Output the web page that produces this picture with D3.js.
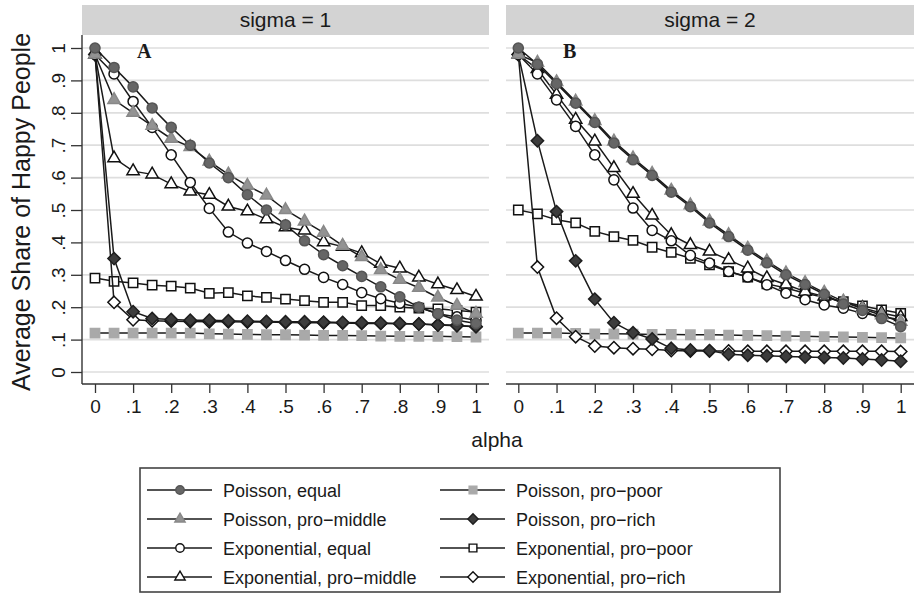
<!DOCTYPE html>
<html><head><meta charset="utf-8">
<script src="https://cdn.jsdelivr.net/npm/d3@7"></script>
<style>
body{margin:0;background:#fff}
text{font-family:"Liberation Sans",Arial,sans-serif;fill:#1a1a1a}
</style>
</head><body>
<svg id="chart" width="914" height="601"></svg>
<script>
// ---------------- data ----------------
const alpha = [0, 0.05, 0.1, 0.15, 0.2, 0.25, 0.3, 0.35, 0.4, 0.45, 0.5, 0.55, 0.6, 0.65, 0.7, 0.75, 0.8, 0.85, 0.9, 0.95, 1];
const yTickValues = [0, 0.1, 0.2, 0.3, 0.4, 0.5, 0.6, 0.7, 0.8, 0.9, 1];
const yTickLabels = ["0", ".1", ".2", ".3", ".4", ".5", ".6", ".7", ".8", ".9", "1"];
const xTickValues = [0, 0.1, 0.2, 0.3, 0.4, 0.5, 0.6, 0.7, 0.8, 0.9, 1];
const xTickLabels = ["0", ".1", ".2", ".3", ".4", ".5", ".6", ".7", ".8", ".9", "1"];
const panels = ["sigma = 1", "sigma = 2"];
const panelLetters = ["A", "B"];
const seriesNames = ["Poisson, equal", "Poisson, pro\u2212middle", "Exponential, equal", "Exponential, pro\u2212middle",
                     "Poisson, pro\u2212poor", "Poisson, pro\u2212rich", "Exponential, pro\u2212poor", "Exponential, pro\u2212rich"];

// sigma = 1 (panel A)
const poisEqA   = [1.00,0.94,0.88,0.815,0.755,0.70,0.645,0.60,0.547,0.50,0.454,0.405,0.362,0.328,0.295,0.263,0.232,0.20,0.18,0.16,0.15];
const poisMidA  = [0.98,0.84,0.80,0.76,0.72,0.695,0.65,0.61,0.575,0.545,0.50,0.465,0.43,0.39,0.355,0.315,0.285,0.26,0.23,0.205,0.18];
const expEqA    = [0.98,0.92,0.835,0.755,0.67,0.585,0.505,0.432,0.398,0.372,0.344,0.317,0.292,0.27,0.245,0.226,0.212,0.20,0.18,0.17,0.16];
const expMidA   = [0.98,0.66,0.62,0.61,0.58,0.557,0.547,0.511,0.496,0.472,0.447,0.437,0.401,0.387,0.367,0.334,0.32,0.292,0.271,0.253,0.233];
const poisPoorA = [0.12,0.12,0.12,0.12,0.12,0.12,0.118,0.117,0.116,0.115,0.115,0.114,0.113,0.113,0.112,0.111,0.11,0.11,0.11,0.109,0.108];
const poisRichA = [0.98,0.35,0.186,0.165,0.162,0.16,0.16,0.158,0.157,0.156,0.155,0.155,0.154,0.153,0.152,0.151,0.15,0.148,0.145,0.143,0.14];
const expPoorA  = [0.29,0.28,0.275,0.268,0.265,0.259,0.243,0.245,0.235,0.23,0.225,0.22,0.215,0.215,0.205,0.205,0.20,0.197,0.195,0.19,0.185];
const expRichA  = [0.98,0.215,0.161,0.158,0.157,0.156,0.155,0.155,0.154,0.154,0.153,0.152,0.152,0.151,0.15,0.15,0.149,0.148,0.146,0.144,0.14];

// sigma = 2 (panel B)
const poisEqB   = [1.00,0.95,0.89,0.83,0.77,0.707,0.655,0.607,0.555,0.51,0.46,0.418,0.376,0.337,0.30,0.27,0.24,0.21,0.19,0.165,0.14];
const poisMidB  = [0.98,0.955,0.895,0.835,0.775,0.712,0.66,0.612,0.56,0.515,0.465,0.423,0.381,0.342,0.305,0.275,0.245,0.218,0.195,0.175,0.155];
const expEqB    = [0.98,0.92,0.84,0.758,0.67,0.593,0.506,0.437,0.405,0.36,0.336,0.31,0.293,0.269,0.243,0.223,0.207,0.197,0.181,0.171,0.161];
const expMidB   = [0.98,0.935,0.856,0.779,0.712,0.63,0.55,0.483,0.423,0.392,0.372,0.346,0.32,0.29,0.27,0.248,0.233,0.215,0.198,0.182,0.17];
const poisPoorB = [0.12,0.12,0.12,0.119,0.118,0.118,0.117,0.116,0.116,0.115,0.115,0.114,0.113,0.112,0.111,0.11,0.109,0.108,0.107,0.106,0.105];
const poisRichB = [0.98,0.714,0.495,0.343,0.225,0.152,0.121,0.102,0.073,0.068,0.066,0.055,0.052,0.05,0.048,0.046,0.045,0.043,0.04,0.037,0.033];
const expPoorB  = [0.50,0.488,0.47,0.46,0.434,0.418,0.406,0.385,0.369,0.351,0.331,0.31,0.293,0.272,0.259,0.243,0.231,0.217,0.204,0.192,0.181];
const expRichB  = [0.98,0.324,0.166,0.109,0.08,0.075,0.072,0.07,0.066,0.065,0.065,0.065,0.064,0.064,0.064,0.064,0.064,0.064,0.064,0.064,0.063];

const panelData = [
  [poisEqA, poisMidA, expEqA, expMidA, poisPoorA, poisRichA, expPoorA, expRichA],
  [poisEqB, poisMidB, expEqB, expMidB, poisPoorB, poisRichB, expPoorB, expRichB]
];

// ---------------- styles ----------------
const styles = [
  {shape:"circle",   fill:"#666666", stroke:"#555555"},
  {shape:"triangle", fill:"#939393", stroke:"#888888"},
  {shape:"circle",   fill:"#ffffff", stroke:"#111"},
  {shape:"triangle", fill:"#ffffff", stroke:"#111"},
  {shape:"square",   fill:"#a9a9a9", stroke:"#a9a9a9"},
  {shape:"diamond",  fill:"#3c3c3c", stroke:"#1e1e1e"},
  {shape:"square",   fill:"#ffffff", stroke:"#111"},
  {shape:"diamond",  fill:"#ffffff", stroke:"#111"}
];
const drawOrder = [4, 6, 7, 5, 3, 2, 1, 0];

const diamondType = {draw(ctx, size){ const r = Math.sqrt(size/2); ctx.moveTo(0,-r); ctx.lineTo(r,0); ctx.lineTo(0,r); ctx.lineTo(-r,0); ctx.closePath(); }};
function symbolPath(shape, scale){
  const s = scale || 1;
  if (shape === "circle") return d3.symbol(d3.symbolCircle, 80*s)();
  if (shape === "square") return d3.symbol(d3.symbolSquare, 86*s)();
  if (shape === "triangle") return d3.symbol(d3.symbolTriangle, 66*s)();
  return d3.symbol(diamondType, 76*s)();
}

const svg = d3.select("#chart");
const y = d3.scaleLinear().domain([0, 1]).range([372, 48]);
const panelGeom = [
  {x0: 82, x1: 489, r0: 95, r1: 476},
  {x0: 506, x1: 914, r0: 518.3, r1: 900.7}
];
const stripTop = 5, plotTop = 35, axisY = 384;

panelGeom.forEach((pg, pi) => {
  const x = d3.scaleLinear().domain([0, 1]).range([pg.r0, pg.r1]);
  const g = svg.append("g");
  // strip
  g.append("rect").attr("x", pg.x0).attr("y", stripTop).attr("width", pg.x1 - pg.x0).attr("height", plotTop - stripTop).attr("fill", "#d3d3d3");
  g.append("text").attr("x", (pg.x0 + pg.x1) / 2).attr("y", 27).attr("text-anchor", "middle").style("font-size", "21px").text(panels[pi]);
  // grid
  g.selectAll("line.grid").data(yTickValues).enter().append("line")
    .attr("x1", pg.x0).attr("x2", pg.x1).attr("y1", d => y(d)).attr("y2", d => y(d))
    .attr("stroke", "#dedede").attr("stroke-width", 1.7);
  // x axis
  const xa = g.append("g").attr("transform", `translate(0,${axisY})`)
    .call(d3.axisBottom(x).tickValues(xTickValues).tickFormat((d, i) => xTickLabels[i]).tickSize(9).tickSizeOuter(0));
  xa.select(".domain").remove();
  xa.selectAll("line").attr("stroke", "#333").attr("stroke-width", 1.3);
  xa.selectAll("text").attr("y", 29).attr("dy", 0).style("font-size", "19px").attr("fill", "#1a1a1a").attr("font-family", null);
  g.append("line").attr("x1", pg.x0).attr("x2", pg.x1).attr("y1", axisY).attr("y2", axisY).attr("stroke", "#333").attr("stroke-width", 1.4);
  // y axis for first panel
  if (pi === 0) {
    const ya = g.append("g").attr("transform", `translate(${pg.x0},0)`)
      .call(d3.axisLeft(y).tickValues(yTickValues).tickFormat((d, i) => yTickLabels[i]).tickSize(11).tickSizeOuter(0));
    ya.select(".domain").remove();
    ya.selectAll("line").attr("stroke", "#333").attr("stroke-width", 1.3);
    ya.selectAll("text").attr("transform", "rotate(-90)").attr("x", 0).attr("y", -17).attr("dy", 0)
      .attr("text-anchor", "middle").style("font-size", "19px").attr("fill", "#1a1a1a").attr("font-family", null);
    g.append("line").attr("x1", pg.x0).attr("x2", pg.x0).attr("y1", plotTop).attr("y2", axisY).attr("stroke", "#333").attr("stroke-width", 1.4);
  }
  // series
  const line = d3.line().x((d, i) => x(alpha[i])).y(d => y(d));
  drawOrder.forEach(si => {
    const vals = panelData[pi][si];
    const st = styles[si];
    const sg = g.append("g");
    sg.append("path").attr("d", line(vals)).attr("fill", "none").attr("stroke", "#1a1a1a").attr("stroke-width", 1.5);
    sg.selectAll("path.m").data(vals).enter().append("path").attr("class", "m")
      .attr("d", symbolPath(st.shape))
      .attr("transform", (d, i) => `translate(${x(alpha[i])},${y(d)})`)
      .attr("fill", st.fill).attr("stroke", st.stroke).attr("stroke-width", 1.5);
  });
  // panel letter
  g.append("text").attr("x", pi === 0 ? 137 : 563).attr("y", 58)
    .style("font-family", '"Liberation Serif","Times New Roman",serif').style("font-weight", "bold").style("font-size", "20px")
    .text(panelLetters[pi]);
});

// axis titles
svg.append("text").attr("x", 497).attr("y", 447).attr("text-anchor", "middle").style("font-size", "21px").text("alpha");
svg.append("text").attr("transform", "translate(30,212) rotate(-90)").attr("text-anchor", "middle").style("font-size", "25px").text("Average Share of Happy People");

// legend
const lg = svg.append("g");
lg.append("rect").attr("x", 140).attr("y", 468).attr("width", 640).attr("height", 124).attr("fill", "none").attr("stroke", "#444").attr("stroke-width", 1.6);
const rowsY = [490, 519, 548, 577];
const colX = [147, 440];
seriesNames.forEach((nm, i) => {
  const col = i < 4 ? 0 : 1, row = i % 4;
  const cx = colX[col], cy = rowsY[row];
  lg.append("line").attr("x1", cx).attr("x2", cx + 65).attr("y1", cy).attr("y2", cy).attr("stroke", "#1a1a1a").attr("stroke-width", 1.7);
  lg.append("path").attr("d", symbolPath(styles[i].shape, 0.7)).attr("transform", `translate(${cx + 33},${cy})`)
    .attr("fill", styles[i].fill).attr("stroke", styles[i].stroke).attr("stroke-width", 1.4);
  lg.append("text").attr("x", cx + 76).attr("y", cy + 6.5).style("font-size", "18px").text(nm);
});
</script>
</body></html>
